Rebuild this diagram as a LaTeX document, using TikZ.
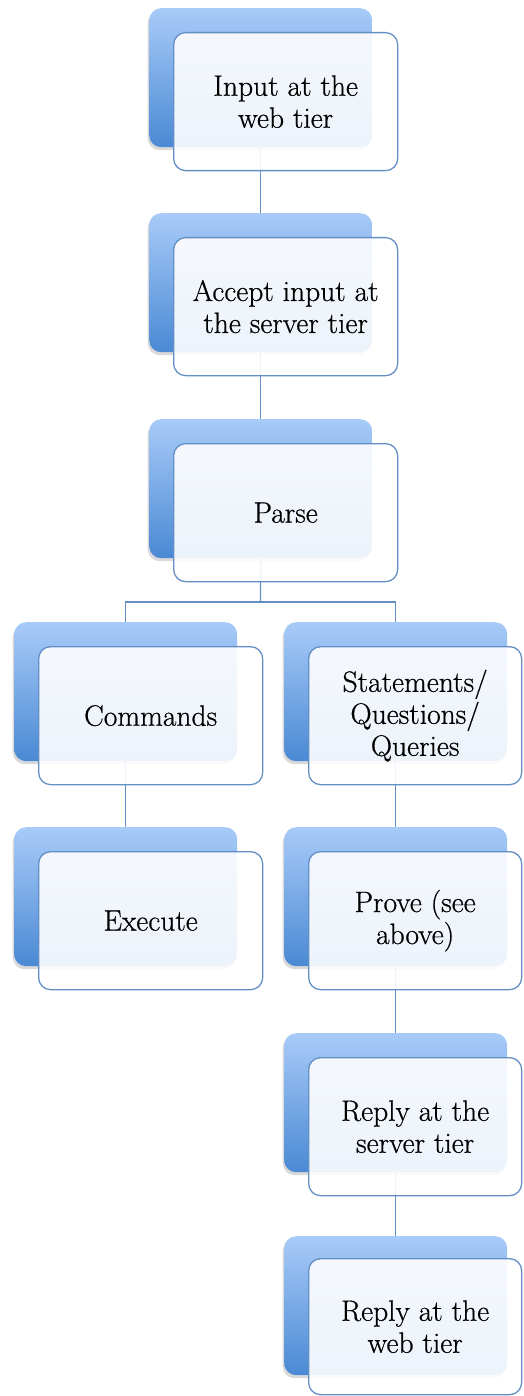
\documentclass[tikz,border=0pt]{standalone}
\usepackage{fontspec}
\usetikzlibrary{shadows,positioning}
\newfontfamily\boxfont[FakeBold=0.6]{Latin Modern Roman}
\definecolor{edgeblue}{RGB}{100,143,196}
\definecolor{backtop}{RGB}{168,203,248}
\definecolor{backbot}{RGB}{74,137,212}
\pgfdeclarelayer{bg}
\pgfsetlayers{bg,main}
\tikzset{
  backbox/.style={anchor=north west, rounded corners=12pt, inner sep=0pt,
    minimum width=223pt, minimum height=139pt,
    top color=backtop, bottom color=backbot, draw=none,
    drop shadow={shadow xshift=-1.5pt, shadow yshift=-3pt, opacity=0.15, fill=black}},
  frontbox/.style={anchor=north west, rounded corners=12pt, inner sep=0pt,
    minimum width=224pt, minimum height=138pt,
    draw=edgeblue, line width=1.3pt, fill=white, fill opacity=0.9, text opacity=1,
    align=center, font=\boxfont\fontsize{29.5}{32}\selectfont, text=black},
  narrowbox/.style={frontbox, minimum width=213pt},
  conn/.style={draw=edgeblue, line width=1.3pt}
}
\begin{document}
\begin{tikzpicture}[x=1pt,y=-1pt]
\useasboundingbox (0,0) rectangle (523,1396);
% group 1
\node[backbox] (b1) at (149,8) {};
\node[frontbox] (f1) at (173,32) {Input at the\\web tier};
% group 2
\node[backbox] (b2) at (149,213) {};
\node[frontbox] (f2) at (173,237) {Accept input at\\the server tier};
% group 3
\node[backbox] (b3) at (149,419) {};
\node[frontbox] (f3) at (173,443) {Parse};
% group 4
\node[backbox] (b4l) at (14,622) {};
\node[frontbox] (f4l) at (38,646) {Commands};
\node[backbox] (b4r) at (284,622) {};
\node[narrowbox] (f4r) at (308,646) {Statements/\\Questions/\\Queries};
% group 5
\node[backbox] (b5l) at (14,827) {};
\node[frontbox] (f5l) at (38,851) {Execute};
\node[backbox] (b5r) at (284,827) {};
\node[narrowbox] (f5r) at (308,851) {Prove (see\\above)};
% group 6
\node[backbox] (b6) at (284,1033) {};
\node[narrowbox] (f6) at (308,1057) {Reply at the\\server tier};
% group 7
\node[backbox] (b7) at (284,1236) {};
\node[narrowbox, minimum height=136pt] (f7) at (308,1258) {Reply at the\\web tier};
% connectors
\begin{pgfonlayer}{bg}
\coordinate (split) at (260.5,602);
\draw[conn] (b1.south) -- (b2.north);
\draw[conn] (b2.south) -- (b3.north);
\draw[conn] (b3.south) -- (split);
\draw[conn] (split) -| (b4l.north);
\draw[conn] (split) -| (b4r.north);
\draw[conn] (b4l.south) -- (b5l.north);
\draw[conn] (b4r.south) -- (b5r.north);
\draw[conn] (b5r.south) -- (b6.north);
\draw[conn] (b6.south) -- (b7.north);
\end{pgfonlayer}
\end{tikzpicture}
\end{document}
